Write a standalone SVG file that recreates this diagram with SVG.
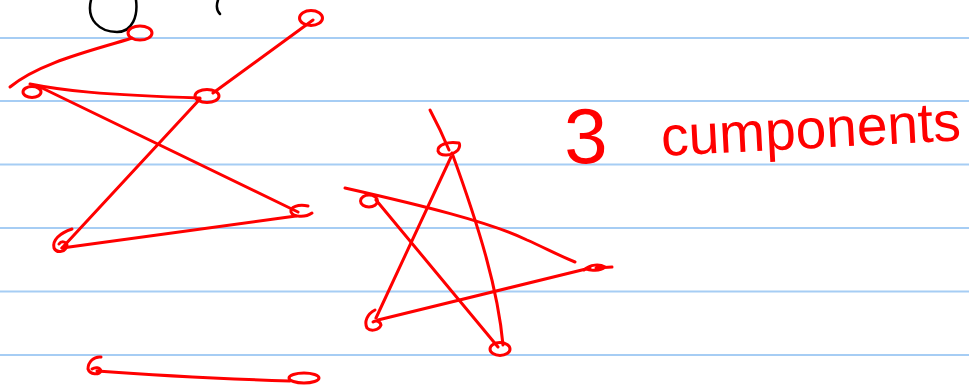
<svg xmlns="http://www.w3.org/2000/svg" width="969" height="388" viewBox="0 0 969 388">
<style>
.rule{stroke:#a6cdf4;stroke-width:2}
.ink{fill:none;stroke:#ff0000;stroke-width:3;stroke-linecap:round;stroke-linejoin:round}
.blk{fill:none;stroke:#000;stroke-width:2.5;stroke-linecap:round}
.hw{fill:#ff0000;font-family:"Liberation Sans",Arial,sans-serif}
</style>
<rect width="969" height="388" fill="#fff"/>
<g id="ruling">
<line class="rule" x1="0" y1="38" x2="969" y2="38"/>
<line class="rule" x1="0" y1="101" x2="969" y2="101"/>
<line class="rule" x1="0" y1="164.5" x2="969" y2="164.5"/>
<line class="rule" x1="0" y1="228" x2="969" y2="228"/>
<line class="rule" x1="0" y1="291.5" x2="969" y2="291.5"/>
<line class="rule" x1="0" y1="355" x2="969" y2="355"/>
</g>
<g id="black-marks">
<path class="blk" d="M91,0 C86,20 100,32 117,32 C133,32 138,15 136,0"/>
<path class="blk" d="M218,0 C216,6 217,11 220,14"/>
</g>
<g id="connectors">
<path class="ink" d="M132,38 C95,50 40,62 10,87"/>
<path class="ink" d="M30,84 C60,90 100,95 200,98"/>
<path class="ink" d="M213,93 L313,20"/>
<path class="ink" d="M200,99 L62,248"/>
<path class="ink" d="M40,87 L298,212"/>
<path class="ink" d="M62,248 L296,216"/>
<path class="ink" d="M430,110 C438,125 444,138 449,150"/>
<path class="ink" d="M452,153 C480,230 498,290 503,345"/>
<path class="ink" d="M451,157 L376,318"/>
<path class="ink" d="M378,320 L590,268"/>
<path class="ink" d="M345,188 C420,205 490,222 527,240 C545,248 560,256 575,262"/>
<path class="ink" d="M376,200 L498,347"/>
<path class="ink" d="M97,371 C150,375 200,378 290,381"/>
</g>
<g id="node-a"><ellipse class="ink" cx="140" cy="33" rx="12" ry="7"/></g>
<g id="node-b"><ellipse class="ink" cx="32" cy="92" rx="9" ry="5.5"/></g>
<g id="node-c"><ellipse class="ink" cx="207" cy="96" rx="12" ry="6.5"/></g>
<g id="node-d"><ellipse class="ink" cx="311" cy="18" rx="11.5" ry="7.5"/></g>
<g id="node-e"><path class="ink" d="M72,229 C60,233 52,240 54,248 C57,254 66,252 67,245 C66,241 61,241 59,244"/></g>
<g id="node-f"><path class="ink" d="M308,206 C298,204 290,207 291,212 C293,217 305,218 312,213"/></g>
<g id="node-g"><path class="ink" d="M459,143 C448,141 437,145 438,151 C440,157 452,156 458,150 C460,147 460,144 459,143"/></g>
<g id="node-h"><ellipse class="ink" cx="500" cy="349" rx="10" ry="6.5"/></g>
<g id="node-i"><path class="ink" d="M375,310 C367,314 364,322 367,328 C371,332 379,330 381,325 C380,321 376,320 373,322"/></g>
<g id="node-j"><path class="ink" d="M584,270 C590,264 600,264 605,267 C600,271 590,271 586,269 M596,268 L612,267"/></g>
<g id="node-k"><ellipse class="ink" cx="369" cy="201" rx="8.5" ry="6"/></g>
<g id="node-l"><path class="ink" d="M101,357 C94,356 88,362 88,369 C90,375 99,375 101,371 C100,367 95,367 92,369"/></g>
<g id="node-m"><ellipse class="ink" cx="304" cy="378" rx="15" ry="5"/></g>
<g id="label">
<text class="hw" x="564" y="163" font-size="78" transform="rotate(-1 590 140)">3</text>
<text class="hw" x="662" y="156" font-size="56" textLength="300" lengthAdjust="spacingAndGlyphs" transform="rotate(-3 662 156)">cumponents</text>
</g>
</svg>
